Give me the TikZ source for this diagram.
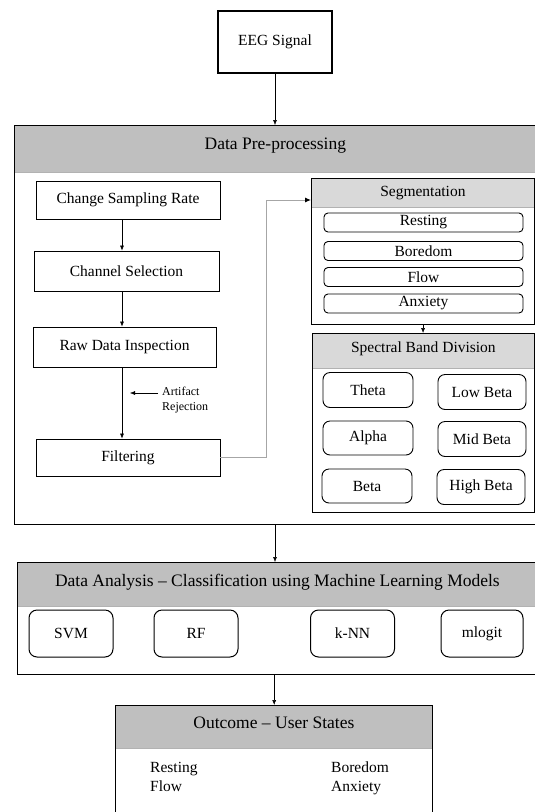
\documentclass[tikz,border=0pt]{standalone}
\usepackage{fontspec}
\setmainfont{Liberation Serif}
\usetikzlibrary{arrows.meta,positioning}

\definecolor{hddark}{HTML}{BFBFBF}
\definecolor{hdlight}{HTML}{D9D9D9}
\definecolor{linkgray}{HTML}{A6A6A6}

\tikzset{
  stagebox/.style={draw,line width=1.4pt,anchor=north west,inner sep=0pt},
  stagehd/.style={fill=hddark,draw=gray!60,line width=0.8pt,anchor=north west,inner sep=0pt,
    font=\fontsize{17.5}{20}\selectfont},
  subbox/.style={draw,line width=1.1pt,anchor=north west,inner sep=0pt},
  subhd/.style={fill=hdlight,draw=gray!60,line width=0.8pt,anchor=north west,inner sep=0pt,
    font=\fontsize{15.5}{18}\selectfont},
  stepbox/.style={draw,line width=0.9pt,inner sep=0pt,font=\fontsize{15.5}{18}\selectfont},
  itembox/.style={draw,line width=0.9pt,rounded corners=4pt,inner sep=0pt,
    font=\fontsize{15.5}{18}\selectfont},
  modelbox/.style={draw,line width=1pt,rounded corners=8pt,inner sep=0pt,
    minimum width=84pt,minimum height=47pt,font=\fontsize{15.5}{18}\selectfont},
  arr/.style={-{Latex[length=5pt,width=4pt]},line width=0.5pt},
  link/.style={-{Latex[length=6pt,width=5pt,black]},draw=linkgray,line width=1pt}
}

\begin{document}
\begin{tikzpicture}[x=1pt,y=-1pt]
  \useasboundingbox (0,0) rectangle (535,812);

  % input signal
  \node[stepbox,line width=1.4pt,minimum width=114pt,minimum height=62pt] (eeg) at (275,42) {EEG Signal};

  % pre-processing stage, header first so the frame lies on top
  \node[stagehd,minimum width=522pt,minimum height=47pt,text depth=10pt] (prehd) at (14,125) {Data Pre-processing};
  \node[stagebox,minimum width=528pt,minimum height=399pt] (pre) at (14,125) {};
  \draw[arr] (eeg) -- (eeg |- pre.north);

  % left column of steps
  \coordinate (spine) at (122,0);
  \node[stepbox,minimum width=184pt,minimum height=38pt] (rate) at (128,200) {Change Sampling Rate};
  \node[stepbox,minimum width=185pt,minimum height=40pt] (chan) at (126.5,271) {Channel Selection};
  \node[stepbox,minimum width=183pt,minimum height=40pt] (insp) at (124.5,347) {Raw Data Inspection};
  \node[stepbox,minimum width=184pt,minimum height=37pt] (filt) at (128,457.5) {Filtering};
  \draw[arr] (rate.south -| spine) -- (chan.north -| spine);
  \draw[arr] (chan.south -| spine) -- (insp.north -| spine);
  \draw[arr] (insp.south -| spine) -- (filt.north -| spine);

  % artifact rejection note
  \node[anchor=north west,align=left,inner xsep=4pt,inner ysep=0pt,
    font=\fontsize{12}{15}\selectfont] (art) at (158,387) {Artifact\\Rejection};
  \coordinate (rej) at (130,393);
  \draw[arr] (art.west |- rej) -- (rej);

  % segmentation
  \node[subhd,minimum width=223pt,minimum height=29pt,text depth=4pt] (seghd) at (311,178) {Segmentation};
  \node[subbox,minimum width=223pt,minimum height=146pt] (seg) at (311,178) {};
  \node[itembox,minimum width=199pt,minimum height=19pt] (rest) at (423.5,222.5) {Resting};
  \node[itembox,minimum width=199pt,minimum height=19pt] (bore) at (423.5,251) {Boredom};
  \node[itembox,minimum width=199pt,minimum height=19pt] (flow) at (423.5,277) {Flow};
  \node[itembox,minimum width=199pt,minimum height=19pt] (anx) at (423.5,303.5) {Anxiety};

  % filtering output to segmentation
  \coordinate (bend) at (266,200);
  \draw[link] (filt.east) -| (bend) -- (bend -| seg.west);

  % spectral bands
  \node[subhd,minimum width=222pt,minimum height=35pt,text depth=8pt] (spechd) at (312,333) {Spectral Band Division};
  \node[subbox,minimum width=222pt,minimum height=179pt] (spec) at (312,333) {};
  \draw[arr] (seg.south) -- (seg.south |- spec.north);
  \node[itembox,rounded corners=7pt,minimum width=90pt,minimum height=35pt] (theta) at (368,390) {Theta};
  \node[itembox,rounded corners=7pt,minimum width=88pt,minimum height=35pt] (lowb) at (482,392) {Low Beta};
  \node[itembox,rounded corners=7pt,minimum width=90pt,minimum height=34pt] (alpha) at (368,438) {Alpha};
  \node[itembox,rounded corners=7pt,minimum width=88pt,minimum height=35pt] (midb) at (482,439) {Mid Beta};
  \node[itembox,rounded corners=7pt,minimum width=90pt,minimum height=34pt] (beta) at (367,486) {Beta};
  \node[itembox,rounded corners=7pt,minimum width=88pt,minimum height=35pt] (highb) at (481,487) {High Beta};

  % data analysis stage
  \node[stagehd,minimum width=520pt,minimum height=44pt,text depth=8pt] (anahd) at (17,562) {Data Analysis \textendash{} Classification using Machine Learning Models};
  \node[stagebox,minimum width=525pt,minimum height=112pt] (ana) at (17,562) {};
  \draw[arr] (eeg |- pre.south) -- (eeg |- ana.north);
  \node[modelbox] (svm) at (71,633.5) {SVM};
  \node[modelbox] (rf) at (196,633.5) {RF};
  \node[modelbox] (knn) at (352.5,633.5) {k-NN};
  \node[modelbox,minimum width=82pt] (mlogit) at (482,633.5) {mlogit};

  % outcome
  \node[stagehd,minimum width=317pt,minimum height=43pt,text depth=8pt] (outhd) at (115,705) {Outcome \textendash{} User States};
  \node[stagebox,minimum width=317pt,minimum height=125pt] (out) at (115,705) {};
  \draw[arr] (out.north |- ana.south) -- (out.north);
  \node[anchor=north west,align=left,inner sep=0pt,font=\fontsize{15.5}{19}\selectfont] (outl) at (150,762) {Resting\\Flow};
  \node[anchor=north west,align=left,inner sep=0pt,font=\fontsize{15.5}{19}\selectfont] (outr) at (331,762) {Boredom\\Anxiety};
\end{tikzpicture}
\end{document}
